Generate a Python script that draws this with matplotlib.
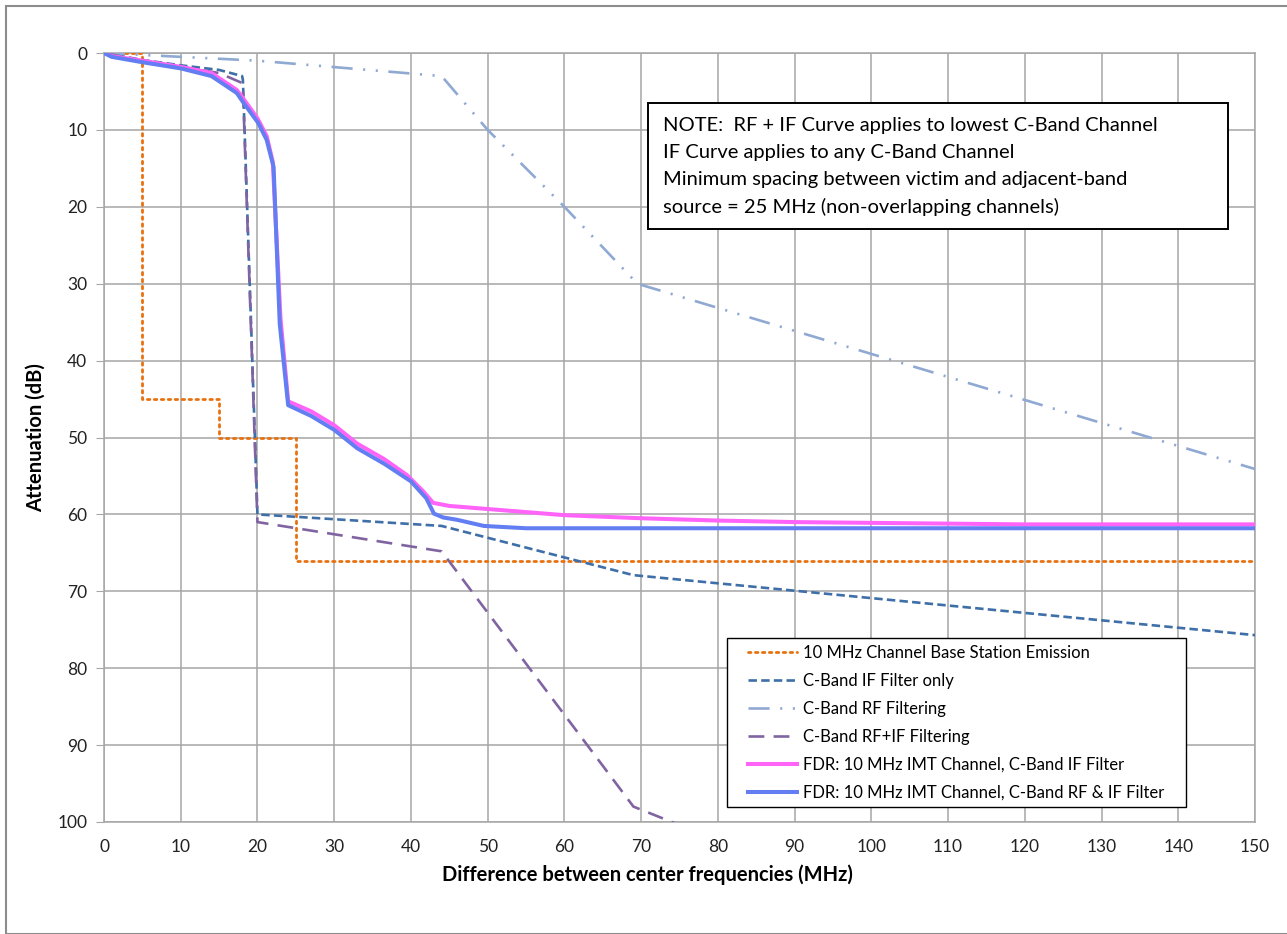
import matplotlib
matplotlib.use("Agg")
import matplotlib.pyplot as plt
from matplotlib.patches import Rectangle

plt.rcParams['font.family'] = ['Lato', 'DejaVu Sans']

# ---- data ----
emis_x = [0, 5, 5, 15, 15, 25, 25, 150]
emis_y = [0, 0, 45, 45, 50, 50, 66, 66]

if_x = [0, 5, 10, 15, 18, 18.1, 20, 44, 69, 150]
if_y = [0, 0.9, 1.6, 2.2, 3.0, 3.5, 60, 61.5, 67.9, 75.7]

rf_x = [0, 20, 44, 50, 60, 69.5, 150]
rf_y = [0, 1.0, 3.0, 10, 20, 30, 54.1]

rfif_x = [0, 5, 10, 15, 18, 18.1, 20, 44, 69, 74.5]
rfif_y = [0, 1.0, 1.8, 2.6, 3.9, 4.4, 61, 64.8, 98, 100.2]

fdr_if_x = [0, 1, 5, 10, 14, 17.3, 18.2, 20, 21.2, 22, 23, 24, 27, 30, 33, 36.5, 39.5,
            41.6, 42.9, 45, 50, 55, 60, 70, 80, 90, 100, 110, 120, 150]
fdr_if_y = [0, 0.4, 1.0, 1.8, 2.6, 4.8, 6.0, 8.5, 10.8, 14.2, 34.5, 45.3, 46.6, 48.4, 50.8,
            52.8, 54.9, 57.0, 58.5, 58.9, 59.3, 59.7, 60.1, 60.5, 60.8, 61.0, 61.1, 61.2, 61.3, 61.3]

fdr_rf_x = [0, 1, 5, 10, 14, 17.3, 18.2, 20.1, 21.2, 22.1, 22.9, 24, 27, 30, 33, 36.5, 40,
            42, 43, 44.2, 46, 49.5, 55, 60, 150]
fdr_rf_y = [0, 0.5, 1.2, 2.0, 3.0, 5.2, 6.5, 9.1, 11.3, 14.8, 35.2, 45.8, 47.2, 49.0, 51.4,
            53.4, 55.7, 57.9, 59.9, 60.4, 60.7, 61.5, 61.8, 61.8, 61.8]

labels = [
    "10 MHz Channel Base Station Emission",
    "C-Band IF Filter only",
    "C-Band RF Filtering",
    "C-Band RF+IF Filtering",
    "FDR: 10 MHz IMT Channel, C-Band IF Filter",
    "FDR: 10 MHz IMT Channel, C-Band RF & IF Filter",
]

note_lines = [
    "NOTE:  RF + IF Curve applies to lowest C-Band Channel",
    "IF Curve applies to any C-Band Channel",
    "Minimum spacing between victim and adjacent-band",
    "source = 25 MHz (non-overlapping channels)",
]

x_ticks = list(range(0, 151, 10))
y_ticks = list(range(0, 101, 10))

# ---- figure ----
W, H = 1287, 934
fig = plt.figure(figsize=(W / 100, H / 100), dpi=100)

# outer chart border
fig.patches.append(Rectangle((6 / W, 0), 1.2, 1 - 6 / H, transform=fig.transFigure,
                             fill=False, edgecolor='#8c8c8c', linewidth=1.5, zorder=0))

L, R, T, B = 104, 1255, 53, 822
ax = fig.add_axes([L / W, 1 - B / H, (R - L) / W, (B - T) / H])

c_orange = '#E8710F'
c_if = '#3E6FA8'
c_rf = '#8FA9D3'
c_rfif = '#8064A2'
c_pink = '#FF63F7'
c_blue = '#627EF2'

ax.plot(emis_x, emis_y, color=c_orange, lw=2.0, linestyle=(0, (0.9, 1.6)),
        dash_capstyle='round', label=labels[0], zorder=3)
ax.plot(if_x, if_y, color=c_if, lw=1.9, linestyle=(0, (3.2, 1.6)), label=labels[1], zorder=3)
ax.plot(rf_x, rf_y, color=c_rf, lw=1.9, linestyle=(0, (8, 4, 0.8, 4, 0.8, 4)),
        label=labels[2], zorder=3)
ax.plot(rfif_x, rfif_y, color=c_rfif, lw=1.9, linestyle=(0, (6, 3.5)), label=labels[3], zorder=3)
ax.plot(fdr_if_x, fdr_if_y, color=c_pink, lw=2.9, label=labels[4], zorder=4)
ax.plot(fdr_rf_x, fdr_rf_y, color=c_blue, lw=2.9, label=labels[5], zorder=5)

ax.set_xlim(0, 150)
ax.set_ylim(100, 0)
ax.set_xticks(x_ticks)
ax.set_yticks(y_ticks)
ax.grid(True, color='#a6a6a6', linewidth=1.1, zorder=0)
ax.set_axisbelow(True)
for s in ax.spines.values():
    s.set_color('#a6a6a6')
    s.set_linewidth(1.1)
ax.tick_params(axis='y', length=6, color='#a6a6a6', labelsize=12.5, labelcolor='#222222', pad=6)
ax.tick_params(axis='x', length=0, labelsize=12.5, labelcolor='#222222', pad=12)

ax.set_xlabel("Difference between center frequencies (MHz)", fontsize=14.5, fontweight='bold')
ax.xaxis.set_label_coords((647 - L) / (R - L), -(864 - B) / (B - T))
ax.set_ylabel("Attenuation (dB)", fontsize=14.5, fontweight='bold', labelpad=8)

# legend with its own frame (drawn inside the axes so it stays on top of the curves)
ax.add_patch(Rectangle((727 / W, 1 - 807 / H), (1186 - 727) / W, (807 - 638) / H,
                       transform=fig.transFigure, facecolor='white',
                       edgecolor='black', linewidth=1.0, zorder=6, clip_on=False))
leg = ax.legend(loc='upper left', bbox_to_anchor=(748 / W, 1 - 645 / H),
                bbox_transform=fig.transFigure,
                frameon=False, fontsize=12,
                handlelength=2.95, handletextpad=0.36, labelspacing=0.72,
                borderpad=0, borderaxespad=0)
leg.set_zorder(7)

# note box
bx0, by0, bx1, by1 = 648, 103, 1228, 229
ax.add_patch(Rectangle((bx0 / W, 1 - by1 / H), (bx1 - bx0) / W, (by1 - by0) / H,
                       transform=fig.transFigure, facecolor='white',
                       edgecolor='black', linewidth=1.4, zorder=10, clip_on=False))
note_y = [125, 152.7, 180, 206.7]
for line, yy in zip(note_lines, note_y):
    ax.text(663 / W, 1 - yy / H, line, fontsize=14.5, va='center', ha='left',
            color='black', zorder=11, transform=fig.transFigure)

fig.savefig("out.png", dpi=100)
